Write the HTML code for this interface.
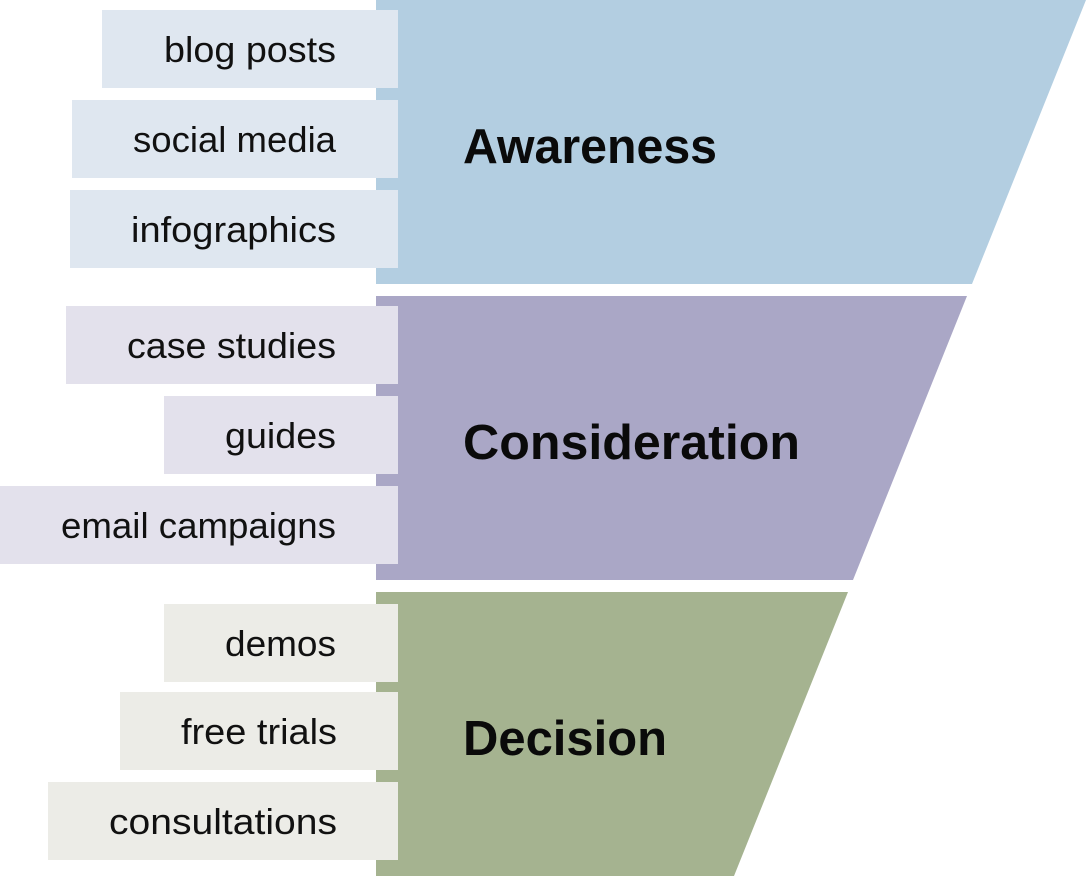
<!DOCTYPE html>
<html>
<head>
<meta charset="utf-8">
<style>
  html, body { margin: 0; padding: 0; background: #ffffff; }
  svg { display: block; }
  .item { font-family: "Liberation Sans", "DejaVu Sans", sans-serif; font-size: 36px; fill: #111111; }
  .stage { font-family: "Liberation Sans", "DejaVu Sans", sans-serif; font-size: 49px; font-weight: bold; fill: #0a0a0a; }
</style>
</head>
<body>
<svg width="1086" height="876" viewBox="0 0 1086 876" xmlns="http://www.w3.org/2000/svg">
  <!-- funnel bands -->
  <polygon points="376,0 1086,0 972,284 376,284" fill="#b3cee1"/>
  <polygon points="376,296 967,296 853,580 376,580" fill="#aaa7c6"/>
  <polygon points="376,592 848,592 734,876 376,876" fill="#a5b390"/>

  <!-- Awareness items -->
  <rect x="102" y="10" width="296" height="78" fill="#dfe7f0"/>
  <rect x="72" y="100" width="326" height="78" fill="#dfe7f0"/>
  <rect x="70" y="190" width="328" height="78" fill="#dfe7f0"/>
  <text class="item" x="336" y="62" text-anchor="end" textLength="172" lengthAdjust="spacingAndGlyphs">blog posts</text>
  <text class="item" x="336" y="152" text-anchor="end" textLength="203" lengthAdjust="spacingAndGlyphs">social media</text>
  <text class="item" x="336" y="242" text-anchor="end" textLength="205" lengthAdjust="spacingAndGlyphs">infographics</text>

  <!-- Consideration items -->
  <rect x="66" y="306" width="332" height="78" fill="#e3e1ec"/>
  <rect x="164" y="396" width="234" height="78" fill="#e3e1ec"/>
  <rect x="0" y="486" width="398" height="78" fill="#e3e1ec"/>
  <text class="item" x="336" y="358" text-anchor="end" textLength="209" lengthAdjust="spacingAndGlyphs">case studies</text>
  <text class="item" x="336" y="448" text-anchor="end" textLength="111" lengthAdjust="spacingAndGlyphs">guides</text>
  <text class="item" x="336" y="538" text-anchor="end" textLength="275" lengthAdjust="spacingAndGlyphs">email campaigns</text>

  <!-- Decision items -->
  <rect x="164" y="604" width="234" height="78" fill="#ecece7"/>
  <rect x="120" y="692" width="278" height="78" fill="#ecece7"/>
  <rect x="48" y="782" width="350" height="78" fill="#ecece7"/>
  <text class="item" x="336" y="656" text-anchor="end" textLength="111" lengthAdjust="spacingAndGlyphs">demos</text>
  <text class="item" x="337" y="744" text-anchor="end" textLength="156" lengthAdjust="spacingAndGlyphs">free trials</text>
  <text class="item" x="337" y="834" text-anchor="end" textLength="228" lengthAdjust="spacingAndGlyphs">consultations</text>

  <!-- Stage labels -->
  <text class="stage" x="463" y="163" textLength="254" lengthAdjust="spacingAndGlyphs">Awareness</text>
  <text class="stage" x="463" y="459" textLength="337" lengthAdjust="spacingAndGlyphs">Consideration</text>
  <text class="stage" x="463" y="755" textLength="204" lengthAdjust="spacingAndGlyphs">Decision</text>
</svg>
</body>
</html>
